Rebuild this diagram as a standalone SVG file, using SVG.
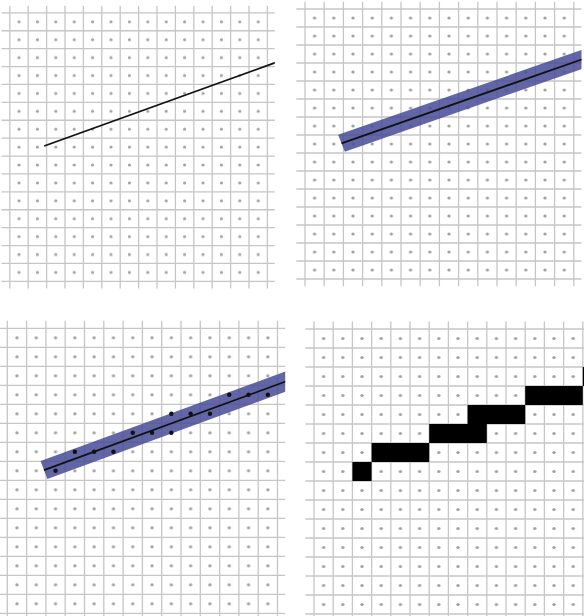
<svg xmlns="http://www.w3.org/2000/svg" width="584" height="616" viewBox="0 0 584 616">
<defs>
<style>
.gl{stroke:#c6c6c6;stroke-width:1.3;fill:none}
.ln{stroke:#111;stroke-width:1.8;fill:none}
.band{fill:#474b96;fill-opacity:0.85}
.bd{fill:#111}
.px{fill:#000}
</style>
<pattern id="dots" patternUnits="userSpaceOnUse" x="0" y="0" width="1" height="1"><circle cx="0.5" cy="0.5" r="0.085" fill="#a0a0a0"/></pattern>
<clipPath id="pc" clipPathUnits="userSpaceOnUse"><rect x="-0.45" y="-0.4" width="14.85" height="15.8"/></clipPath>
<g id="grid">
<path class="gl" vector-effect="non-scaling-stroke" d="M-0.45 0H14.4M-0.45 1H14.4M-0.45 2H14.4M-0.45 3H14.4M-0.45 4H14.4M-0.45 5H14.4M-0.45 6H14.4M-0.45 7H14.4M-0.45 8H14.4M-0.45 9H14.4M-0.45 10H14.4M-0.45 11H14.4M-0.45 12H14.4M-0.45 13H14.4M-0.45 14H14.4M-0.45 15H14.4M0 -0.4V15.4M1 -0.4V15.4M2 -0.4V15.4M3 -0.4V15.4M4 -0.4V15.4M5 -0.4V15.4M6 -0.4V15.4M7 -0.4V15.4M8 -0.4V15.4M9 -0.4V15.4M10 -0.4V15.4M11 -0.4V15.4M12 -0.4V15.4M13 -0.4V15.4M14 -0.4V15.4"/>
<rect x="0" y="0" width="14" height="15" fill="url(#dots)"/>
</g>
</defs>

<g id="panel1" transform="translate(9.8 12.85) scale(18.4 17.9)">
<use href="#grid"/>
<g clip-path="url(#pc)">
<path class="ln" vector-effect="non-scaling-stroke" d="M1.87 7.44L16 2.2"/>
</g>
</g>

<g id="panel2" transform="translate(305 9) scale(19.2 18)">
<use href="#grid"/>
<g clip-path="url(#pc)">
<polygon class="band" points="1.725,6.99 15.825,1.746 16.175,2.68 2.075,7.93"/>
<path class="ln" vector-effect="non-scaling-stroke" d="M1.9 7.46L16 2.215"/>
</g>
</g>

<g id="panel3" transform="translate(7.3 328.3) scale(19.3 19)">
<use href="#grid"/>
<g clip-path="url(#pc)">
<polygon class="band" points="1.725,6.99 15.825,1.746 16.175,2.68 2.075,7.93"/>
<path class="ln" vector-effect="non-scaling-stroke" d="M1.9 7.46L16 2.215"/>
<g class="bd">
<ellipse cx="2.5" cy="7.5" rx="0.115" ry="0.117"/>
<ellipse cx="3.5" cy="6.5" rx="0.115" ry="0.117"/>
<ellipse cx="4.5" cy="6.5" rx="0.115" ry="0.117"/>
<ellipse cx="5.5" cy="6.5" rx="0.115" ry="0.117"/>
<ellipse cx="6.5" cy="5.5" rx="0.115" ry="0.117"/>
<ellipse cx="7.5" cy="5.5" rx="0.115" ry="0.117"/>
<ellipse cx="8.5" cy="5.5" rx="0.115" ry="0.117"/>
<ellipse cx="8.5" cy="4.5" rx="0.115" ry="0.117"/>
<ellipse cx="9.5" cy="4.5" rx="0.115" ry="0.117"/>
<ellipse cx="10.5" cy="4.5" rx="0.115" ry="0.117"/>
<ellipse cx="11.5" cy="3.5" rx="0.115" ry="0.117"/>
<ellipse cx="12.5" cy="3.5" rx="0.115" ry="0.117"/>
<ellipse cx="13.5" cy="3.5" rx="0.115" ry="0.117"/>
</g>
</g>
</g>

<g id="panel4" transform="translate(314 329) scale(19.2 19)">
<use href="#grid"/>
<g clip-path="url(#pc)" class="px">
<rect x="2" y="7" width="1" height="1"/>
<rect x="3" y="6" width="3" height="1"/>
<rect x="6" y="5" width="3" height="1"/>
<rect x="8" y="4" width="3" height="1"/>
<rect x="11" y="3" width="3" height="1"/>
<rect x="14" y="2" width="1" height="1"/>
</g>
</g>
</svg>
